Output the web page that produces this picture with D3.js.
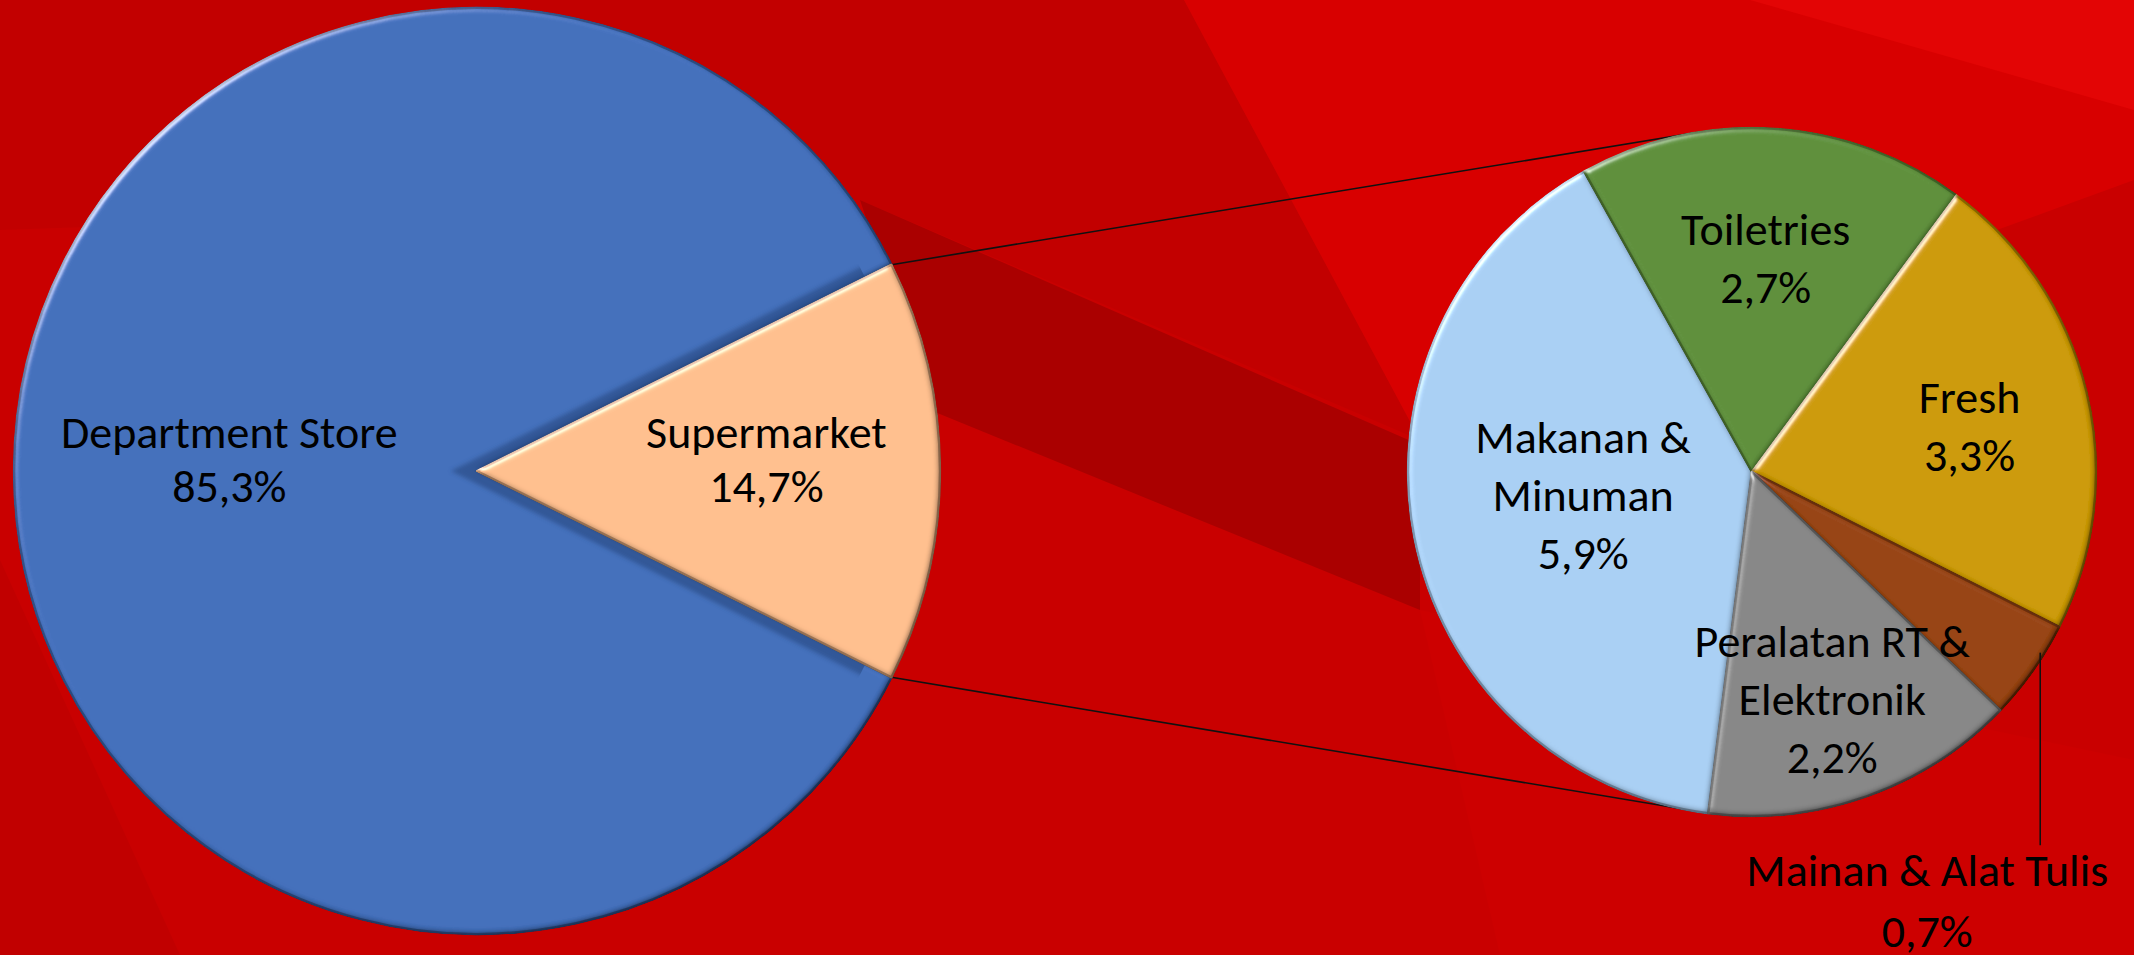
<!DOCTYPE html>
<html>
<head>
<meta charset="utf-8">
<script src="https://cdn.jsdelivr.net/npm/d3@7"></script>
<style>
  html, body { margin: 0; padding: 0; background: #c80000; overflow: hidden; }
  svg { display: block; }
  text { font-family: Carlito, Calibri, Lato, "Open Sans", sans-serif; fill: #000; }
</style>
</head>
<body>
<svg id="chart" width="2134" height="955"></svg>
<script>
// ---------- data ----------
const mainCategories = ["Supermarket", "Department Store"];
const mainValues = [14.7, 85.3];
const mainLabels = ["14,7%", "85,3%"];

const subCategories = ["Makanan & Minuman", "Toiletries", "Fresh", "Mainan & Alat Tulis", "Peralatan RT & Elektronik"];
const subValues = [5.9, 2.7, 3.3, 0.7, 2.2];
const subLabels = ["5,9%", "2,7%", "3,3%", "0,7%", "2,2%"];

// ---------- styling / layout (not data) ----------
const mainColors = ["#ffbf8e", "#426fbb"];
const subColors = ["#a9cff3", "#5e8f3b", "#cc9a03", "#974311", "#878787"];
const mainLines = [["Supermarket"], ["Department Store"]];
const subLines = [["Makanan &", "Minuman"], ["Toiletries"], ["Fresh"], ["Mainan & Alat Tulis"], ["Peralatan RT &", "Elektronik"]];

const W = 2134, H = 955;
const mainC = {x: 477, y: 471, r: 463};
const subC = {x: 1752, y: 472, r: 344};
const fontSize = 46;

const svg = d3.select("#chart");
const defs = svg.append("defs");

// bevel filter
const f = defs.append("filter").attr("id", "bevel").attr("x", "-5%").attr("y", "-5%").attr("width", "110%").attr("height", "110%");
f.append("feGaussianBlur").attr("in", "SourceAlpha").attr("stdDeviation", 3).attr("result", "blur");
const spec = f.append("feSpecularLighting").attr("in", "blur").attr("surfaceScale", 4)
  .attr("specularConstant", 1).attr("specularExponent", 25).attr("lighting-color", "#ffffff").attr("result", "spec");
spec.append("feDistantLight").attr("azimuth", 225).attr("elevation", 20);
f.append("feComposite").attr("in", "spec").attr("in2", "SourceAlpha").attr("operator", "in").attr("result", "specIn");
const diff = f.append("feDiffuseLighting").attr("in", "blur").attr("surfaceScale", 4).attr("diffuseConstant", 1)
  .attr("lighting-color", "#ffffff").attr("result", "diff");
diff.append("feDistantLight").attr("azimuth", 225).attr("elevation", 60);
f.append("feComposite").attr("in", "SourceGraphic").attr("in2", "diff").attr("operator", "arithmetic")
  .attr("k1", 1.155).attr("k2", 0).attr("k3", 0).attr("k4", 0).attr("result", "shaded");
f.append("feComposite").attr("in", "shaded").attr("in2", "SourceAlpha").attr("operator", "in").attr("result", "shadedIn");
f.append("feComposite").attr("in", "shadedIn").attr("in2", "specIn").attr("operator", "arithmetic")
  .attr("k1", 0).attr("k2", 1).attr("k3", 0.6).attr("k4", 0);

const blurF = defs.append("filter").attr("id", "soft");
blurF.append("feGaussianBlur").attr("stdDeviation", 2);

// ---------- background decoration ----------
const bg = svg.append("g");
bg.append("rect").attr("width", W).attr("height", H).attr("fill", "#c90000");
const bgPolys = [
  {pts: [[0,0],[1184,0],[1420,440],[860,200],[0,230]], c: "#c20000"},
  {pts: [[1184,0],[2134,0],[2134,180],[1420,440]], c: "#d80000"},
  {pts: [[1750,0],[2134,0],[2134,110]], c: "#e30505"},
  {pts: [[860,200],[1420,445],[1420,610],[930,410]], c: "#aa0000"},
  {pts: [[0,560],[180,955],[0,955]], c: "#c10000"},
  {pts: [[1420,610],[2134,760],[2134,955],[1500,955]], c: "#cd0000"}
];
bg.selectAll("polygon").data(bgPolys).join("polygon")
  .attr("points", d => d.pts.map(p => p.join(",")).join(" "))
  .attr("fill", d => d.c);

// ---------- pies ----------
const mainSpan = 2 * Math.PI * mainValues[0] / d3.sum(mainValues);
const mainPie = d3.pie().sort(null).value(d => d)
  .startAngle(Math.PI / 2 - mainSpan / 2).endAngle(Math.PI / 2 - mainSpan / 2 + 2 * Math.PI);
const mainArcs = mainPie(mainValues);
const mainArc = d3.arc().innerRadius(0).outerRadius(mainC.r);

const subStartAngle = 187.3 * Math.PI / 180;
const subPie = d3.pie().sort(null).value(d => d).startAngle(subStartAngle).endAngle(subStartAngle + 2 * Math.PI);
const subArcs = subPie(subValues);
const subArc = d3.arc().innerRadius(0).outerRadius(subC.r);

function pt(c, r, a) { return [c.x + r * Math.sin(a), c.y - r * Math.cos(a)]; }

// connector lines (behind)
const other = mainArcs[0];
const topEnd = pt(subC, subC.r, -9.3 * Math.PI / 180);
const botEnd = pt(subC, subC.r, subStartAngle);
const conn = [
  [pt(mainC, mainC.r, other.startAngle), topEnd],
  [pt(mainC, mainC.r, other.endAngle), botEnd]
];
svg.append("g").selectAll("line").data(conn).join("line")
  .attr("x1", d => d[0][0]).attr("y1", d => d[0][1])
  .attr("x2", d => d[1][0]).attr("y2", d => d[1][1])
  .attr("stroke", "#111").attr("stroke-width", 1.6);

const gMain = svg.append("g").attr("transform", `translate(${mainC.x},${mainC.y})`);
// big slice (Department Store)
gMain.append("path").datum(mainArcs[1])
  .attr("d", mainArc)
  .attr("fill", mainColors[1])
  .attr("stroke", d3.color(mainColors[1]).darker(0.9))
  .attr("stroke-width", 2.5)
  .attr("filter", "url(#bevel)");
// bevel notch shadow on the big slice
const clip = defs.append("clipPath").attr("id", "mainClip");
clip.append("circle").attr("r", mainC.r - 6);
gMain.append("path")
  .attr("d", d3.arc().innerRadius(0).outerRadius(mainC.r)({startAngle: other.startAngle, endAngle: other.endAngle}))
  .attr("transform", "translate(-26,0)")
  .attr("clip-path", "url(#mainClip)")
  .attr("fill", "#27467f").attr("opacity", 0.6)
  .attr("filter", "url(#soft)");
// other slice (Supermarket)
gMain.append("path").datum(mainArcs[0])
  .attr("d", mainArc)
  .attr("fill", mainColors[0])
  .attr("stroke", d3.color(mainColors[0]).darker(0.9))
  .attr("stroke-width", 2.5)
  .attr("stroke-linejoin", "round")
  .attr("filter", "url(#bevel)");

const mainLabelR = [0.625, 0.535];
mainArcs.forEach((a, i) => {
  const mid = (a.startAngle + a.endAngle) / 2;
  const [x, y] = pt({x: 0, y: 0}, mainC.r * mainLabelR[i], mid);
  const lines = mainLines[i].concat([mainLabels[i]]);
  const t = gMain.append("text").attr("text-anchor", "middle").attr("font-size", fontSize);
  lines.forEach((ln, k) => {
    t.append("tspan").attr("x", x).attr("y", y - 12 + (k - (lines.length - 1) / 2) * 54 + fontSize * 0.35).text(ln);
  });
});

const gSub = svg.append("g").attr("transform", `translate(${subC.x},${subC.y})`);
gSub.selectAll("path").data(subArcs).join("path")
  .attr("d", subArc)
  .attr("fill", (d, i) => subColors[i])
  .attr("stroke", (d, i) => d3.color(subColors[i]).darker(0.9))
  .attr("stroke-width", 2.5)
  .attr("stroke-linejoin", "round")
  .attr("filter", "url(#bevel)");

const subLabelR = [0.50, 0.625, 0.65, null, 0.70];
const subLabelDy = [-10, 0, 6, 0, 0];
subArcs.forEach((a, i) => {
  const mid = (a.startAngle + a.endAngle) / 2;
  const lines = subLines[i].concat([subLabels[i]]);
  if (subLabelR[i] === null) {
    // outside label with a vertical leader line
    const [lx, ly] = pt({x: 0, y: 0}, subC.r * 0.98, mid);
    const lx2 = lx + 13;
    const endY = subC.r * 1.085;
    gSub.append("line").attr("x1", lx2).attr("y1", ly - 14).attr("x2", lx2).attr("y2", endY)
      .attr("stroke", "#111").attr("stroke-width", 1.6);
    const cx = lx2 - 113;
    const t = gSub.append("text").attr("text-anchor", "middle").attr("font-size", fontSize);
    lines.forEach((ln, k) => {
      t.append("tspan").attr("x", cx).attr("y", endY + 25 + k * 61 + fontSize * 0.35).text(ln);
    });
    return;
  }
  const [x, y] = pt({x: 0, y: 0}, subC.r * subLabelR[i], mid);
  const t = gSub.append("text").attr("text-anchor", "middle").attr("font-size", fontSize);
  lines.forEach((ln, k) => {
    t.append("tspan").attr("x", x).attr("y", y + subLabelDy[i] + (k - (lines.length - 1) / 2) * 58 + fontSize * 0.35).text(ln);
  });
});
</script>
</body>
</html>
